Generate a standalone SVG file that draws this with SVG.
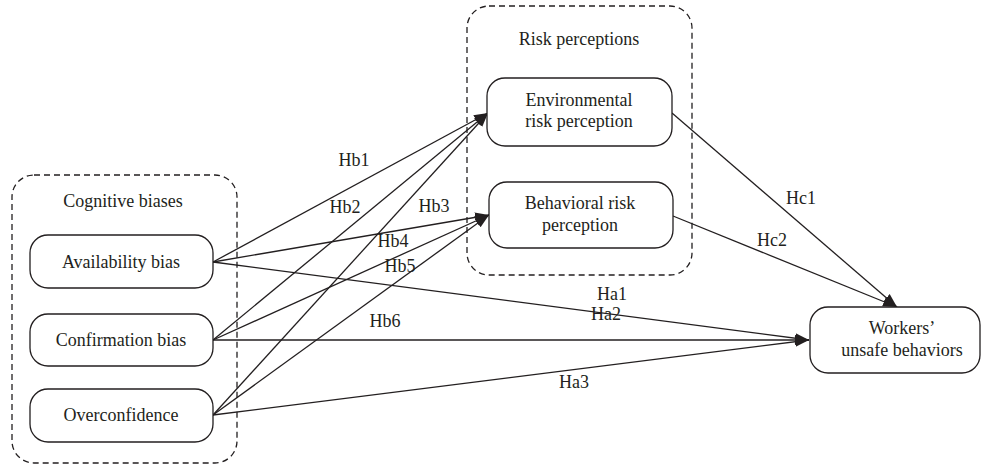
<svg xmlns="http://www.w3.org/2000/svg" width="982" height="468" viewBox="0 0 982 468">
<style>
text{font-family:"Liberation Serif","Times New Roman",serif;font-size:18px;fill:#231f20;text-anchor:middle}
.node{fill:#fff;stroke:#231f20;stroke-width:1.3}
.group{fill:none;stroke:#231f20;stroke-width:1.3;stroke-dasharray:6,4}
.edge{stroke:#231f20;stroke-width:1.3;fill:none;marker-end:url(#arr)}
</style>
<defs>
<marker id="arr" markerUnits="userSpaceOnUse" markerWidth="16" markerHeight="12" refX="14" refY="5.5" orient="auto">
<path d="M0,0.5 L14,5.5 L0,10.5 z" fill="#231f20"/>
</marker>
</defs>
<rect width="982" height="468" fill="#fff"/>
<g id="cognitive-biases">
<rect class="group" x="12" y="175" width="225" height="288" rx="22"/>
<text x="123" y="207">Cognitive biases</text>
</g>
<g id="risk-perceptions">
<rect class="group" x="467" y="6" width="225" height="269" rx="22"/>
<text x="579" y="45">Risk perceptions</text>
</g>
<g id="connectors">
<line class="edge" x1="213" y1="262" x2="488" y2="113"/>
<line class="edge" x1="213" y1="340" x2="488" y2="113"/>
<line class="edge" x1="213" y1="415" x2="488" y2="113"/>
<line class="edge" x1="213" y1="262" x2="489" y2="215"/>
<line class="edge" x1="213" y1="340" x2="489" y2="215"/>
<line class="edge" x1="213" y1="415" x2="489" y2="215"/>
<line class="edge" x1="213" y1="262" x2="809" y2="340"/>
<line class="edge" x1="213" y1="340" x2="809" y2="340"/>
<line class="edge" x1="213" y1="415" x2="809" y2="340"/>
<line class="edge" x1="672" y1="113" x2="897" y2="307"/>
<line class="edge" x1="673" y1="216" x2="897" y2="307"/>
<text x="354" y="166">Hb1</text>
<text x="345" y="213">Hb2</text>
<text x="434" y="212">Hb3</text>
<text x="393" y="247">Hb4</text>
<text x="400" y="272">Hb5</text>
<text x="385" y="327">Hb6</text>
<text x="612" y="300">Ha1</text>
<text x="606" y="320">Ha2</text>
<text x="574" y="388">Ha3</text>
<text x="801" y="204">Hc1</text>
<text x="772" y="246">Hc2</text>
</g>
<g id="availability-bias">
<rect class="node" x="30" y="235" width="183" height="53" rx="18"/>
<text x="121" y="268">Availability bias</text>
</g>
<g id="confirmation-bias">
<rect class="node" x="30" y="314" width="183" height="52" rx="18"/>
<text x="121" y="346">Confirmation bias</text>
</g>
<g id="overconfidence">
<rect class="node" x="30" y="389" width="183" height="53" rx="18"/>
<text x="121" y="421">Overconfidence</text>
</g>
<g id="environmental-risk">
<rect class="node" x="487" y="78" width="185" height="68" rx="18"/>
<text x="579" y="106">Environmental</text>
<text x="579" y="127">risk perception</text>
</g>
<g id="behavioral-risk">
<rect class="node" x="489" y="182" width="184" height="66" rx="18"/>
<text x="580" y="209">Behavioral risk</text>
<text x="580" y="231">perception</text>
</g>
<g id="workers-unsafe">
<rect class="node" x="810" y="307" width="170" height="66" rx="18"/>
<text x="902" y="334">Workers’</text>
<text x="902" y="356">unsafe behaviors</text>
</g>
</svg>
